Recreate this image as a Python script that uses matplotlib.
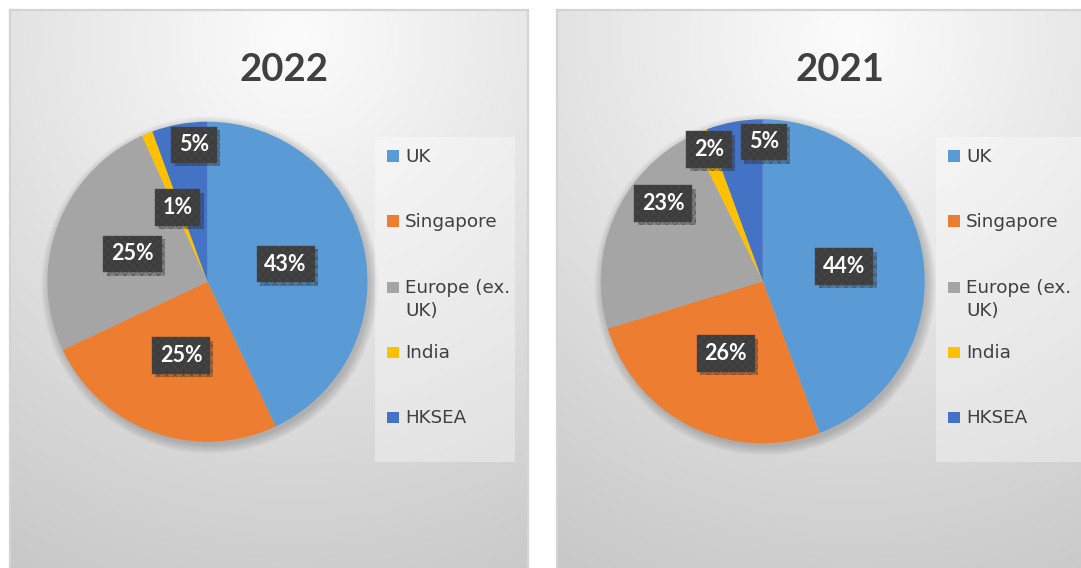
import numpy as np
import matplotlib
matplotlib.use("Agg")
import matplotlib.pyplot as plt
from matplotlib.patches import Rectangle, Circle
import matplotlib.patheffects as pe

# ---------------- data ----------------
categories = ["UK", "Singapore", "Europe (ex.\nUK)", "India", "HKSEA"]
values_2022 = [43.0, 25.0, 25.3, 1.1, 5.6]
labels_2022 = ["43%", "25%", "25%", "1%", "5%"]
values_2021 = [44.3, 26.0, 22.4, 1.7, 5.6]
labels_2021 = ["44%", "26%", "23%", "2%", "5%"]
titles = ["2022", "2021"]

# ---------------- style ----------------
colors = ["#5B9BD5", "#ED7D31", "#A5A5A5", "#FFC000", "#4472C4"]
W, H = 1081, 568
DPI = 100
plt.rcParams["hatch.linewidth"] = 0.4

fig = plt.figure(figsize=(W / DPI, H / DPI), dpi=DPI)
fig.patch.set_facecolor("white")


def px(x, y, w, h):
    return [x / W, 1 - (y + h) / H, w / W, h / H]


def panel(x0, x1, y0, y1):
    ax = fig.add_axes(px(x0, y0, x1 - x0, y1 - y0))
    w, h = int(x1 - x0), int(y1 - y0)
    yy, xx = np.mgrid[0:h, 0:w]
    cx, cy = 0.55 * w, 0.05 * h
    d = np.sqrt((xx - cx) ** 2 + (yy - cy) ** 2)
    v = 252 - np.clip(d, 0, 620) * (252 - 198) / 620
    img = np.dstack([v, v, v]) / 255.0
    ax.imshow(img, extent=[0, 1, 0, 1], aspect="auto", interpolation="bilinear")
    ax.set_xlim(0, 1)
    ax.set_ylim(0, 1)
    ax.set_xticks([])
    ax.set_yticks([])
    for s in ax.spines.values():
        s.set_color("#d4d4d4")
        s.set_linewidth(1.6)
    return ax


panel(10, 528, 10, 575)
panel(557, 1090, 10, 575)

charts = [
    dict(values=values_2022, labels=labels_2022, title=titles[0],
         cx=207.5, cy=281.7, r=160, title_x=284,
         lab_r=[0.50, 0.49, 0.50, 0.50, 0.86], lab_off=[0, 0, 0, 0, -4.4],
         leg_x=375, leg_w=140),
    dict(values=values_2021, labels=labels_2021, title=titles[1],
         cx=762.8, cy=281.3, r=162, title_x=840,
         lab_r=[0.51, 0.50, 0.78, 0.88, 0.86], lab_off=[0, -0.9, -14.5, -1, -10.5],
         leg_x=936, leg_w=160),
]

LINE_STEP = 22.3  # px between legend text lines

for ch in charts:
    # title
    fig.text(ch["title_x"] / W, 1 - 70 / H, ch["title"], ha="center", va="center",
             fontsize=27.5, fontweight="bold", family=["Lato", "DejaVu Sans"],
             color="#404040")

    r = ch["r"]
    ax = fig.add_axes(px(ch["cx"] - r, ch["cy"] - r, 2 * r, 2 * r))
    # soft shadow
    for i in range(10):
        ax.add_patch(Circle((0.015, -0.02), 1.0 + 0.006 * i, facecolor="black",
                            alpha=0.018, lw=0, zorder=0, clip_on=False))
    wedges, _ = ax.pie(ch["values"], colors=colors, startangle=90, counterclock=False,
                       wedgeprops=dict(linewidth=0))
    for w_ in wedges:
        w_.set_zorder(2)
    ax.set_xlim(-1, 1)
    ax.set_ylim(-1, 1)
    ax.set_aspect("equal")
    ax.axis("off")

    for w_, lab, rf, off in zip(wedges, ch["labels"], ch["lab_r"], ch["lab_off"]):
        mid = np.deg2rad((w_.theta1 + w_.theta2) / 2 + off)
        t = ax.text(rf * np.cos(mid), rf * np.sin(mid), lab, ha="center", va="center",
                    fontsize=15.5, fontweight="bold", color="white",
                    family=["Lato", "DejaVu Sans"], zorder=5,
                    bbox=dict(boxstyle="square,pad=0.36", facecolor="#3d3d3d",
                              edgecolor="#4a4a4a", hatch="xxxx", linewidth=0.3))
        t.get_bbox_patch().set_path_effects([
            pe.SimplePatchShadow(offset=(2.5, -2.5), shadow_rgbFace="black", alpha=0.22),
            pe.Normal()])

    # legend
    lx = ch["leg_x"]
    lax = fig.add_axes(px(lx, 137, ch["leg_w"], 325))
    lax.set_xlim(0, ch["leg_w"])
    lax.set_ylim(325, 0)
    lax.patch.set_facecolor("white")
    lax.patch.set_alpha(0.35)
    lax.set_xticks([])
    lax.set_yticks([])
    for s in lax.spines.values():
        s.set_visible(False)
    sq_tops = [150, 215, 281.7, 346.7, 411.7]
    for cat, col, top in zip(categories, colors, sq_tops):
        lax.add_patch(Rectangle((12, top - 137), 11.5, 11.5, facecolor=col, lw=0))
        lines = cat.split("\n")
        for k, line in enumerate(lines):
            lax.text(30, top - 137 + 11.5 + k * LINE_STEP, line, ha="left",
                     va="baseline", fontsize=13.2,
                     family=["DejaVu Sans"], color="#404040")

fig.savefig("out.png", dpi=DPI, facecolor="white")
